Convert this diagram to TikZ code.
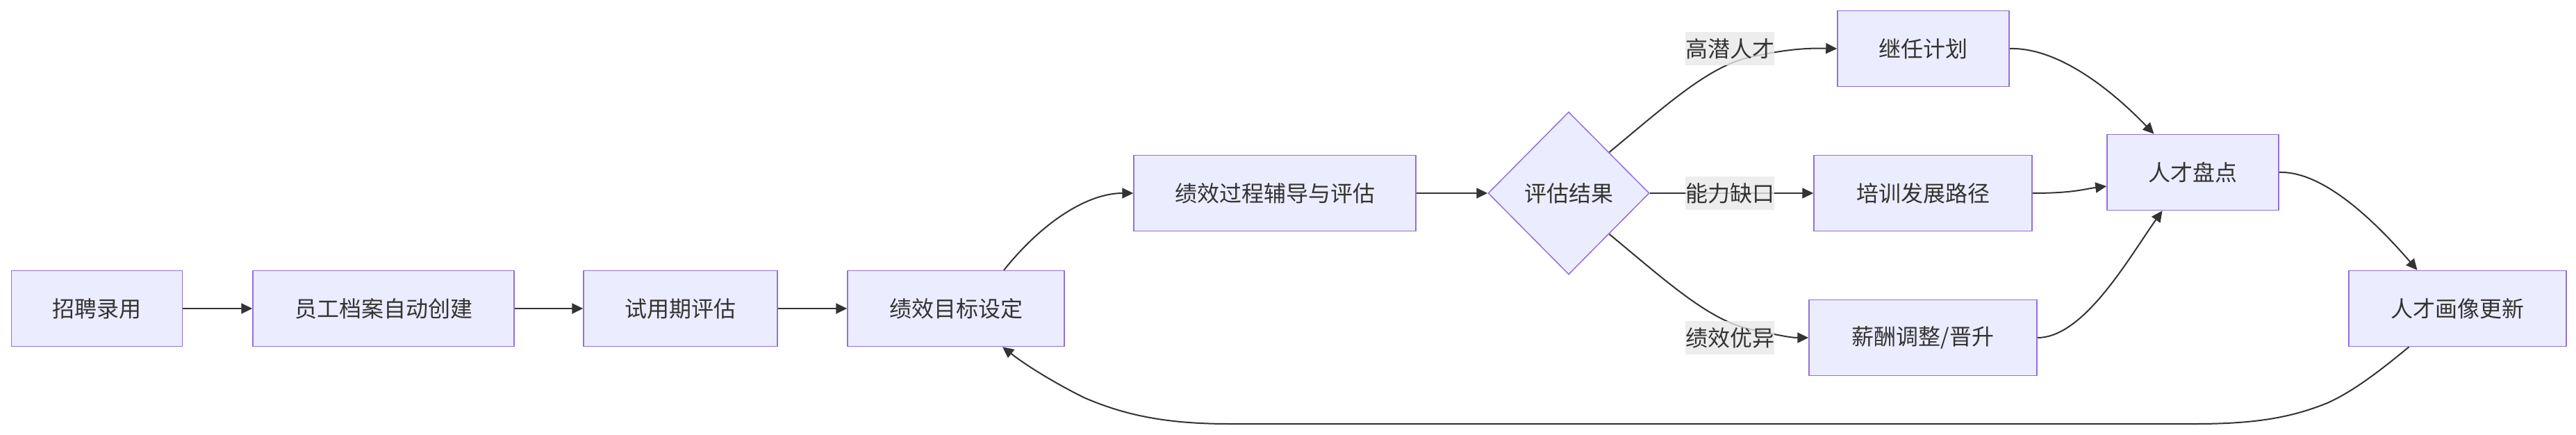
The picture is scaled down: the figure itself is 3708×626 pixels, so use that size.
\documentclass[tikz,border=0pt]{standalone}
\usepackage{fontspec}
\setmainfont{Noto Sans CJK SC}
\usetikzlibrary{shapes.geometric, arrows.meta, backgrounds}
\definecolor{nodefill}{HTML}{ECECFF}
\definecolor{nodeline}{HTML}{9370DB}
\definecolor{edgecol}{HTML}{333333}
\definecolor{lblbg}{HTML}{E8E8E8}
\tikzset{
  box/.style={draw=nodeline, fill=nodefill, line width=0.75pt, text=edgecol,
    font=\fontsize{16pt}{19pt}\selectfont, inner sep=0pt, minimum height=54.5pt},
  decbox/.style={diamond, draw=nodeline, fill=nodefill, line width=0.75pt, text=edgecol,
    font=\fontsize{16pt}{19pt}\selectfont, inner sep=0pt, minimum width=116pt, minimum height=117pt},
  lbl/.style={fill=lblbg, fill opacity=0.8, text opacity=1, text=edgecol,
    font=\fontsize{16pt}{19pt}\selectfont, inner sep=0pt, minimum width=64pt, minimum height=24pt},
  edge/.style={draw=edgecol, line width=1pt, -{Triangle[length=8pt,width=7.5pt]}}
}
\begin{document}
\begin{tikzpicture}[x=0.5pt,y=-0.5pt]
\useasboundingbox (0,0) rectangle (3708,626);
% nodes
\node[box, minimum width=123pt] (hire) at (139.5,444) {招聘录用};
\node[box, minimum width=188pt] (file) at (552,444) {员工档案自动创建};
\node[box, minimum width=139.5pt] (prob) at (979.5,444) {试用期评估};
\node[box, minimum width=156pt] (goal) at (1376,444) {绩效目标设定};
\node[box, minimum width=203pt] (coach) at (1835,278) {绩效过程辅导与评估};
\node[decbox] (dec) at (2258,278) {评估结果};
\node[box, minimum width=123.5pt] (succ) at (2768.5,70) {继任计划};
\node[box, minimum width=157pt] (train) at (2768,278) {培训发展路径};
\node[box, minimum width=164pt] (pay) at (2768,486) {薪酬调整/晋升};
\node[box, minimum width=123.5pt] (inv) at (3156.5,248) {人才盘点};
\node[box, minimum width=156.5pt] (port) at (3537.5,444) {人才画像更新};
% edge labels
\node[lbl] (l1) at (2490,70) {高潜人才};
\node[lbl] (l2) at (2490,278) {能力缺口};
\node[lbl] (l3) at (2490,486) {绩效优异};
% edges
\begin{pgfonlayer}{background}
\draw[edge] (hire) -- (file);
\draw[edge] (file) -- (prob);
\draw[edge] (prob) -- (goal);
\draw[edge] ([xshift=34.5pt]goal.north) .. controls (1500,320) and (1565,278) .. (coach.west);
\draw[edge] (coach) -- (dec);
\draw[edge] (dec.north east) .. controls (2400,150) and (2460,95) .. (2520,82) .. controls (2570,71) and (2600,69) .. (succ.west);
\draw[edge] (dec.east) -- (l2.center) -- (train.west);
\draw[edge] (dec.south east) .. controls (2400,406) and (2460,461) .. (2520,474) .. controls (2550,480) and (2575,486) .. (pay.west);
\draw[edge] (succ.east) .. controls (2960,68) and (3035,125) .. ([xshift=-28pt]inv.north);
\draw[edge] (train.east) .. controls (2985,278) and (3000,272) .. ([yshift=-10pt]inv.west);
\draw[edge] (pay.east) .. controls (3000,486) and (3065,370) .. ([xshift=-22pt]inv.south);
\draw[edge] (inv.east) .. controls (3345,246) and (3420,320) .. ([xshift=-29pt]port.north);
\draw[edge] ([xshift=-35pt]port.south) .. controls (3430,530) and (3390,562) .. (3350,580) .. controls (3300,600) and (3250,610) .. (3160,610) -- (1770,610) .. controls (1680,610) and (1620,598) .. (1560,572) .. controls (1520,552) and (1480,528) .. ([xshift=33.5pt]goal.south);
\end{pgfonlayer}
\end{tikzpicture}
\end{document}
